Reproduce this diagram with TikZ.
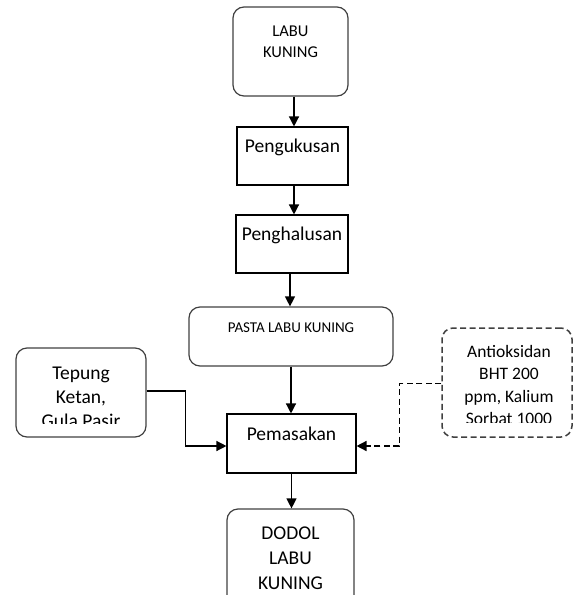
\documentclass[tikz,border=0pt]{standalone}
\usepackage{fontspec}
\setmainfont{Carlito}
\usetikzlibrary{arrows.meta}
\begin{document}
\begin{tikzpicture}[x=1pt,y=-1pt,
 rbox/.style={draw=black!75, line width=1.2pt, rounded corners=11pt, inner sep=0pt},
 sbox/.style={draw=black, line width=1.1pt, inner sep=0pt},
 dbox/.style={rbox, line width=1.5pt, dash pattern=on 6pt off 3.5pt},
 txt/.style={anchor=north, align=center, inner sep=0pt},
 big/.style={font=\fontsize{19.5}{24}\selectfont},
 arr/.style={line width=1.3pt, -{Triangle[length=10pt,width=10pt]}},
 darr/.style={arr, line width=1.5pt, dash pattern=on 6pt off 3.5pt}]
\clip (0,0) rectangle (574,595);
% boxes
\node[rbox, minimum width=115pt, minimum height=89pt] (labu) at (290.5,51.5) {};
\node[sbox, minimum width=111pt, minimum height=58pt] (kukus) at (292.5,156) {};
\node[sbox, minimum width=112pt, minimum height=58pt] (halus) at (292,244) {};
\node[rbox, minimum width=204pt, minimum height=59pt] (pasta) at (291,336.5) {};
\node[sbox, minimum width=129pt, minimum height=59pt] (masak) at (291.5,443.5) {};
\node[rbox, minimum width=130pt, minimum height=89pt] (tepung) at (81,392.5) {};
\node[dbox, minimum width=130pt, minimum height=109pt] (anti) at (507,382.5) {};
\node[rbox, minimum width=127pt, minimum height=101pt] (dodol) at (290.5,559.5) {};
% texts
\node[txt, font=\fontsize{16.5}{21}\selectfont] (labut) at ([yshift=-14.8pt]labu.north) {\strut LABU\\KUNING};
\node[txt, big] (kukust) at ([yshift=-9.2pt]kukus.north) {\strut Pengukusan};
\node[txt, big] (halust) at ([yshift=-9.2pt]halus.north) {\strut Penghalusan};
\node[txt, font=\fontsize{15}{18}\selectfont] (pastat) at ([yshift=-12.9pt]pasta.north) {\strut PASTA LABU KUNING};
\node[txt, big] (masakt) at ([yshift=-10.2pt]masak.north) {\strut Pemasakan};
\begin{scope}
\clip (tepung.north west) rectangle ([yshift=14pt]tepung.south east);
\node[txt, big] (tepungt) at ([yshift=-15.2pt]tepung.north) {\strut Tepung\\Ketan,\\Gula Pasir};
\end{scope}
\begin{scope}
\clip (anti.north west) rectangle ([yshift=15pt]anti.south east);
\node[txt, font=\fontsize{17.5}{22.5}\selectfont] (antit) at ([xshift=2pt,yshift=-14.25pt]anti.north) {\strut Antioksidan\\BHT 200\\ppm, Kalium\\Sorbat 1000};
\end{scope}
\node[txt, font=\fontsize{19.5}{25}\selectfont] (dodolt) at ([yshift=-13.5pt]dodol.north) {\strut DODOL\\LABU\\KUNING};
% connectors
\draw[arr] ([xshift=3.5pt]labu.south) -- ([xshift=3.5pt]labu.south |- kukus.north);
\draw[arr] ([xshift=1.5pt]kukus.south) -- ([xshift=1.5pt]kukus.south |- halus.north);
\draw[arr] ([xshift=-2pt]halus.south) -- ([xshift=-2pt]halus.south |- pasta.north);
\draw[arr] (pasta.south) -- (pasta.south |- masak.north);
\draw[arr] (masak.south) -- (masak.south |- dodol.north);
\draw[arr] ([yshift=1.5pt]tepung.east) -- ++(39,0) |- ([yshift=-2.5pt]masak.west);
\draw[darr] ([yshift=-1pt]anti.west) -- ++(-42,0) |- ([yshift=-2.5pt]masak.east);
\end{tikzpicture}
\end{document}
